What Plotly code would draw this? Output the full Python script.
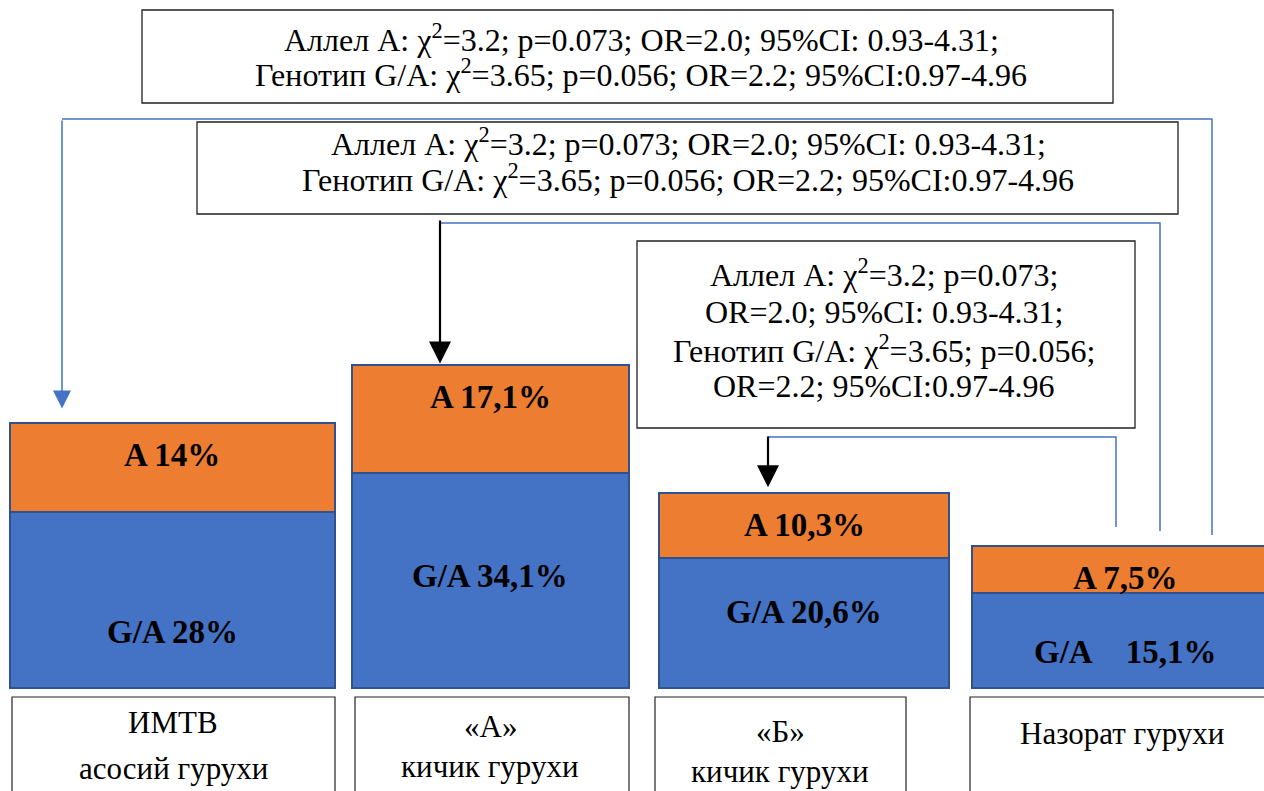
import plotly.graph_objects as go

# ---------------- data ----------------
ga_values = [28, 34.1, 20.6, 15.1]          # Генотип G/A, %
a_values = [14, 17.1, 10.3, 7.5]            # Аллел A, %
ga_labels = ["G/A 28%", "G/A 34,1%", "G/A 20,6%", "G/A\u00a0\u00a0\u00a0\u00a015,1%"]
a_labels = ["A 14%", "A 17,1%", "A 10,3%", "A 7,5%"]
group_labels = [["ИМТВ", "асосий гурухи"], ["«А»", "кичик гурухи"],
                ["«Б»", "кичик гурухи"], ["Назорат гурухи"]]
stat_box_wide = ["Аллел А: χ<sup>2</sup>=3.2; p=0.073; OR=2.0; 95%CI: 0.93-4.31;",
                 "Генотип G/A: χ<sup>2</sup>=3.65; p=0.056; OR=2.2; 95%CI:0.97-4.96"]
stat_box_narrow = ["Аллел А: χ<sup>2</sup>=3.2; p=0.073;",
                   "OR=2.0; 95%CI: 0.93-4.31;",
                   "Генотип G/A: χ<sup>2</sup>=3.65; p=0.056;",
                   "OR=2.2; 95%CI:0.97-4.96"]

# ---------------- layout geometry ----------------
W, H = 1264, 791
BASE_PX = 688       # pixel row of the bar baseline
SCALE = 6.3         # pixels per percent
bar_x = [172, 490, 804, 1125]
bar_w = [325, 277, 290, 306]
ga_label_frac = [0.32, 0.52, 0.585, 0.38]   # vertical placement of G/A labels within segment

BLUE, ORANGE, EDGE, LINE = "#4472C4", "#ED7D31", "#2F528F", "#4472C4"
SERIF = "Liberation Serif, Times New Roman, serif"
TXT = 32
BAR_TXT = 33
LBL_TXT = 31


def py2y(py):
    return (BASE_PX - py) / SCALE


def py2p(py):
    return 1 - py / H


fig = go.Figure()
fig.add_trace(go.Bar(x=bar_x, y=ga_values, width=bar_w, marker=dict(color=BLUE, line=dict(color=EDGE, width=2.5)),
                     hoverinfo="skip", showlegend=False))
fig.add_trace(go.Bar(x=bar_x, y=a_values, width=bar_w, marker=dict(color=ORANGE, line=dict(color=EDGE, width=2.5)),
                     hoverinfo="skip", showlegend=False))

ann = []
shapes = []
tops = [g + a for g, a in zip(ga_values, a_values)]
for i in range(4):
    ann.append(dict(x=bar_x[i], y=tops[i], xref="x", yref="y", yshift=-32, yanchor="middle",
                    text=f"<b>{a_labels[i]}</b>",
                    showarrow=False, font=dict(family=SERIF, size=BAR_TXT, color="black")))
    ann.append(dict(x=bar_x[i], y=ga_values[i] * ga_label_frac[i], xref="x", yref="y", yanchor="middle",
                    text=f"<b>{ga_labels[i]}</b>",
                    showarrow=False, font=dict(family=SERIF, size=BAR_TXT, color="black")))


# text boxes
def box(x0, y0, x1, y1, w=1.3):
    shapes.append(dict(type="rect", xref="x", yref="paper", x0=x0, x1=x1, y0=py2p(y0), y1=py2p(y1),
                       line=dict(color="#222", width=w), fillcolor="white", layer="above"))


def text(x, y, t, size=TXT):
    ann.append(dict(x=x, y=py2p(y), xref="x", yref="paper", text=t, showarrow=False,
                    xanchor="center", yanchor="middle",
                    font=dict(family=SERIF, size=size, color="black")))


box(142, 10, 1113, 103)
box(197, 122, 1178, 214)
box(637, 241, 1135, 428)

for t, yy in zip(stat_box_wide, [38, 73]):
    text(641, yy, t)
for t, yy in zip(stat_box_wide, [142, 178]):
    text(688, yy, t)
for t, yy in zip(stat_box_narrow, [273, 312, 349, 386]):
    text(884, yy, t)

# group label boxes
label_boxes = [(12, 335), (355, 629), (655, 906), (970, 1270)]
label_cx = [173, 490, 780, 1122]
label_rows = [[722, 768], [726, 766], [731, 771], [733]]
for (x0, x1), cx, lines, rows in zip(label_boxes, label_cx, group_labels, label_rows):
    box(x0, 697, x1, 800, w=1.2)
    for t, yy in zip(lines, rows):
        text(cx, yy, t, LBL_TXT)


# connector lines
def path(pts, color=LINE, w=1.5):
    d = "M " + " L ".join(f"{x},{py2y(y)}" for x, y in pts)
    shapes.append(dict(type="path", xref="x", yref="y", path=d, line=dict(color=color, width=w), layer="above"))


path([(62, 119), (1212, 119), (1212, 535)])
path([(440, 223), (1160, 223), (1160, 531)])
path([(768, 437), (1116, 437), (1116, 527)])

# arrows to the bar tops
arrow_x = [62, 440, 768]
arrow_from = [119, 219, 435]
arrow_gap = [15, 2, 6]
arrow_col = [LINE, "black", "black"]
arrow_w = [1.5, 2.2, 2.2]
for i in range(3):
    ann.append(dict(x=arrow_x[i], y=tops[i] + arrow_gap[i] / SCALE, xref="x", yref="y",
                    ax=arrow_x[i], ay=py2y(arrow_from[i]), axref="x", ayref="y", text="",
                    showarrow=True, arrowhead=2, arrowsize=2.4 if i == 0 else 2.0, arrowwidth=arrow_w[i],
                    arrowcolor=arrow_col[i], standoff=0, startstandoff=0))

fig.update_layout(
    width=W, height=H, margin=dict(l=0, r=0, t=0, b=0),
    paper_bgcolor="white", plot_bgcolor="white",
    barmode="stack", bargap=0,
    xaxis=dict(range=[0, W], visible=False, fixedrange=True),
    yaxis=dict(range=[py2y(H), py2y(0)], visible=False, fixedrange=True),
    shapes=shapes, annotations=ann, showlegend=False,
)
fig.write_html("out.html", config={"displayModeBar": False},
               post_script="document.body.style.margin='0';document.body.style.overflow='hidden';")
